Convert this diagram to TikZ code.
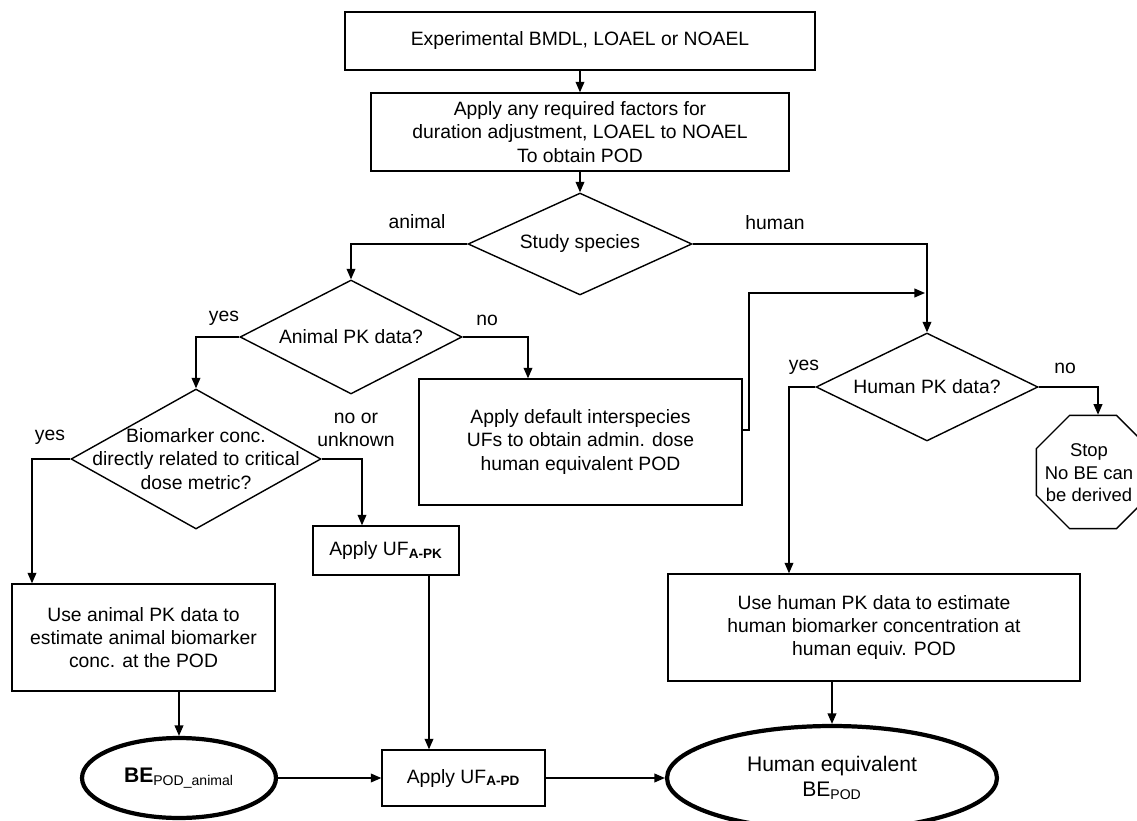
\documentclass[tikz,border=0pt]{standalone}
\usepackage{fontspec}
\setmainfont{Liberation Sans}
\usetikzlibrary{shapes.geometric,arrows.meta}
\begin{document}
\begin{tikzpicture}[x=0.02cm,y=-0.02cm,
  every node/.style={font=\fontsize{11}{13.3}\selectfont, align=center},
  box/.style={draw, line width=0.8pt, inner sep=0pt},
  decision/.style={draw, diamond, line width=0.8pt, inner sep=0pt},
  result/.style={draw, ellipse, line width=2.4pt, inner sep=0pt},
  arr/.style={line width=0.8pt, -{Triangle[length=6pt,width=5pt]}},
  lbl/.style={inner sep=0pt}
]
\useasboundingbox (0,0) rectangle (1137,821);

% process boxes and decisions
\node[box, minimum width=9.4cm, minimum height=1.16cm] (start) at (580,41) {Experimental BMDL, LOAEL or NOAEL};
\node[box, minimum width=8.36cm, minimum height=1.56cm] (adjust) at (580,132) {Apply any required factors for\\duration adjustment, LOAEL to NOAEL\\To obtain POD};
\node[decision, minimum width=4.48cm, minimum height=2.04cm] (species) at (580,244) {};
\node (speciestext) at (species.center) {Study species};
\node[decision, minimum width=4.44cm, minimum height=2.28cm] (apk) at (351,337) {};
\node (apktext) at (apk.center) {Animal PK data?};
\node[decision, minimum width=5cm, minimum height=2.8cm] (bio) at (196,459) {};
\node (biotext) at (bio.center) {Biomarker conc.\\directly related to critical\\dose metric?};
\node[box, minimum width=6.46cm, minimum height=2.52cm] (admin) at (580.5,442) {Apply default interspecies\\UFs to obtain admin. dose\\human equivalent POD};
\node[decision, minimum width=4.44cm, minimum height=2.16cm] (hpk) at (927,387) {};
\node (hpktext) at (hpk.center) {Human PK data?};
\node[draw, regular polygon, regular polygon sides=8, minimum size=2.45cm, line width=0.8pt, inner sep=0pt] (stop) at (1093,472) {};
\node[font=\fontsize{10.5}{12.8}\selectfont] (stoptext) at (1089,473) {Stop\\No BE can\\be derived};
\node[box, minimum width=2.92cm, minimum height=0.98cm] (ufpk) at (386,550.5) {Apply UF\textsubscript{\bfseries A-PK}};
\node[box, minimum width=5.26cm, minimum height=2.14cm] (animest) at (143.5,637.5) {Use animal PK data to\\estimate animal biomarker\\conc. at the POD};
\node[box, minimum width=8.24cm, minimum height=2.14cm] (humest) at (874,627.5) {Use human PK data to estimate\\human biomarker concentration at\\human equiv. POD};
\node[box, minimum width=3.26cm, minimum height=1.12cm] (ufpd) at (463.5,778) {Apply UF\textsubscript{\bfseries A-PD}};
\node[result, minimum width=3.88cm, minimum height=1.6cm, font=\fontsize{12}{14}\selectfont] (beanimal) at (179,778) {\textbf{BE}\textsubscript{POD\_animal}};
\node[result, minimum width=6.6cm, minimum height=2.08cm, font=\fontsize{12}{14.5}\selectfont] (heq) at (832,778) {Human equivalent\\BE\textsubscript{POD}};

% helper coordinates for the vertical runs of the connectors
\coordinate (noline) at (528,0);
\coordinate (byes) at (32,0);
\coordinate (bno) at (362,0);
\coordinate (pkdown) at (429,0);
\coordinate (hyes) at (789,0);
\coordinate (hno) at (1098,0);
\coordinate (fbturn) at (749,293);
\coordinate (fbend) at (925,293);

% connectors
\draw[arr] (start.south) -- (adjust.north);
\draw[arr] (adjust.south) -- (species.north);
\draw[arr] (species.west) -| (apk.north);
\draw[arr] (species.east) -| (hpk.north);
\draw[arr] (apk.west) -| (bio.north);
\draw[arr] (apk.east) -| (noline |- admin.north);
\draw[arr] (bio.west) -| (byes |- animest.north);
\draw[arr] (bio.east) -| (bno |- ufpk.north);
\draw[arr] (pkdown |- ufpk.south) -- (pkdown |- ufpd.north);
\draw[arr] (beanimal.north |- animest.south) -- (beanimal.north);
\draw[arr] (beanimal.east) -- (ufpd.west);
\draw[arr] (ufpd.east) -- (heq.west);
\draw[arr] (heq.north |- humest.south) -- (heq.north);
\draw[arr] (hpk.west) -| (hyes |- humest.north);
\draw[arr] (hpk.east) -| (hno |- stop.north);
\draw[arr] ([yshift=6.8pt]admin.east) -| (fbturn) -- (fbend);

% branch labels
\node[lbl] (lanimal) at (417,222) {animal};
\node[lbl] (lhuman) at (775,223) {human};
\node[lbl] (lapkyes) at (224,318) {yes};
\node[lbl] (lapkno) at (487,320) {no};
\node[lbl] (lbioyes) at (50,437) {yes};
\node[lbl] (lbiono) at (356,430) {no or\\unknown};
\node[lbl] (lhpkyes) at (804,367) {yes};
\node[lbl] (lhpkno) at (1065,368) {no};
\end{tikzpicture}
\end{document}
